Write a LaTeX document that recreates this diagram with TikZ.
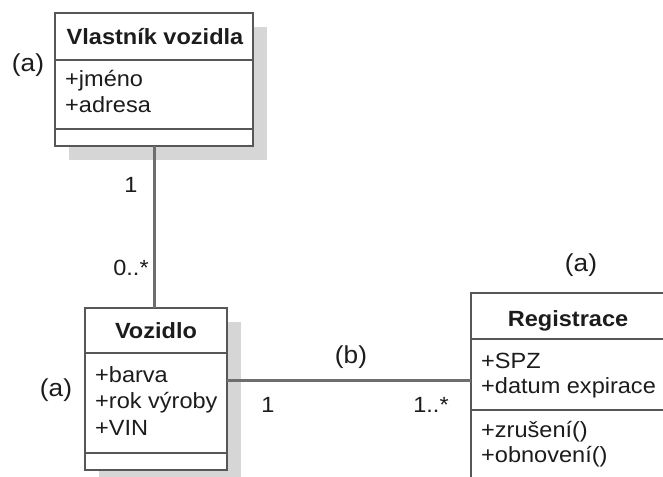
\documentclass[tikz,border=0pt]{standalone}
\usepackage{fontspec}
\setmainfont{Liberation Sans}[FakeStretch=1.07]
\usetikzlibrary{shadows}
\definecolor{boxline}{HTML}{575757}
\definecolor{assocline}{HTML}{6E6E6E}
\definecolor{shadowgray}{HTML}{D6D6D6}
\definecolor{inktext}{HTML}{1C1C1C}
\tikzset{
  classbox/.style={draw=boxline, line width=2.4pt, fill=white, rectangle,
    inner sep=0pt, outer sep=0pt, anchor=north west,
    drop shadow={shadow xshift=14pt, shadow yshift=-14pt, fill=shadowgray, opacity=1}},
  divider/.style={draw=boxline, line width=2.4pt},
  assoc/.style={draw=assocline, line width=3pt},
  classname/.style={font=\fontsize{22}{26}\selectfont\bfseries, text=inktext, anchor=base, inner sep=0pt},
  member/.style={font=\fontsize{22}{26}\selectfont, text=inktext, anchor=base west, inner sep=0pt},
  tag/.style={font=\fontsize{22}{26}\selectfont, text=inktext, anchor=base, inner sep=0pt},
  marker/.style={font=\fontsize{24.5}{28}\selectfont, text=inktext, anchor=base, inner sep=0pt},
}
\begin{document}
\begin{tikzpicture}[x=1pt, y=-1pt]
\useasboundingbox (0,0) rectangle (663,476);
\clip (0,0) rectangle (663,476);
\fill[white] (0,0) rectangle (663,476);

% vehicle owner class
\node[classbox, minimum width=198pt, minimum height=133pt] (owner) at (55,13) {};
\draw[divider] (owner.west |- 0,60) -- (owner.east |- 0,60);
\draw[divider] (owner.west |- 0,129) -- (owner.east |- 0,129);
\node[classname] (ownerName) at (155,45) {Vlastník vozidla};
\node[member] (ownerA1) at (65,87) {+jméno};
\node[member] (ownerA2) at (65,113) {+adresa};

% vehicle class
\node[classbox, minimum width=142pt, minimum height=162pt] (vehicle) at (85,308) {};
\draw[divider] (vehicle.west |- 0,353) -- (vehicle.east |- 0,353);
\draw[divider] (vehicle.west |- 0,453) -- (vehicle.east |- 0,453);
\node[classname] (vehicleName) at (156,338) {Vozidlo};
\node[member] (vehicleA1) at (95,382) {+barva};
\node[member] (vehicleA2) at (95,408) {+rok výroby};
\node[member] (vehicleA3) at (95,435) {+VIN};

% registration class (runs past the right and bottom edges)
\node[classbox, minimum width=220pt, minimum height=200pt] (reg) at (471,293) {};
\draw[divider] (reg.west |- 0,339) -- (reg.east |- 0,339);
\draw[divider] (reg.west |- 0,410) -- (reg.east |- 0,410);
\node[classname] (regName) at (568,326) {Registrace};
\node[member] (regA1) at (481,368) {+SPZ};
\node[member] (regA2) at (481,393) {+datum expirace};
\node[member] (regO1) at (481,437) {+zrušení()};
\node[member] (regO2) at (481,462) {+obnovení()};

% associations
\draw[assoc] (owner.south) -- (owner.south |- vehicle.north);
\draw[assoc] (vehicle.east |- 0,380) -- (reg.west |- 0,380);

% multiplicities
\node[tag] (m1) at (131,192) {1};
\node[tag] (m2) at (131,275) {0..*};
\node[tag] (m3) at (268,412) {1};
\node[tag] (m4) at (431,412) {1..*};

% annotations
\node[marker] (ownerTag) at (28,72) {(a)};
\node[marker] (vehicleTag) at (56,396) {(a)};
\node[marker] (regTag) at (581,271) {(a)};
\node[marker] (assocTag) at (351,363) {(b)};
\end{tikzpicture}
\end{document}
